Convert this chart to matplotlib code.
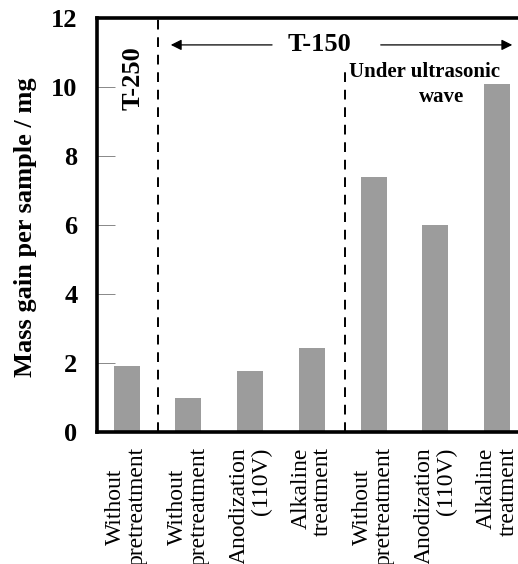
import matplotlib.pyplot as plt

plt.rcParams["font.family"] = ["Liberation Serif", "DejaVu Serif"]

categories = [
    "Without\npretreatment",
    "Without\npretreatment",
    "Anodization\n(110V)",
    "Alkaline\ntreatment",
    "Without\npretreatment",
    "Anodization\n(110V)",
    "Alkaline\ntreatment",
]
mass_gain = [1.9, 1.0, 1.78, 2.43, 7.4, 6.0, 10.1]
y_ticks = [0, 2, 4, 6, 8, 10, 12]

fig = plt.figure(figsize=(5.18, 5.64), dpi=100)
ax = fig.add_axes([97 / 518, 132 / 564, 431 / 518, 414 / 564])

x = list(range(len(mass_gain)))
ax.bar(x, mass_gain, width=0.42, color="#9c9c9c", edgecolor="none", zorder=2)

ax.set_xlim(-0.48, 6.5)
ax.set_ylim(0, 12)
ax.set_yticks(y_ticks)
ax.set_yticklabels([str(t) for t in y_ticks], fontsize=19, fontweight="bold")
ax.tick_params(axis="y", direction="in", length=13, width=0.7, color="#888888", pad=14)
ax.tick_params(axis="x", length=0, pad=11)
ax.set_xticks(x)
ax.set_xticklabels(categories, rotation=90, fontsize=17, va="top", ha="center",
                   linespacing=1.05)
for lab, txt in zip(ax.get_xticklabels(), categories):
    lab.set_multialignment("center" if txt.startswith("Without") else "right")

for side in ("left", "top", "bottom"):
    ax.spines[side].set_linewidth(2.6)
ax.spines["right"].set_visible(False)

ax.set_ylabel("Mass gain per sample / mg", fontsize=19, fontweight="bold")
ax.yaxis.set_label_coords(-0.14, 0.495)

# group separators
ax.axvline(0.5, color="black", lw=1.4, ls=(0, (5, 4)), zorder=1)
ax.plot([3.53, 3.53], [0, 10.64], color="black", lw=1.4, ls=(0, (5, 4)), zorder=1)

ax.text(0.1, 10.26, "T-250", rotation=90, fontsize=19, fontweight="bold",
        ha="center", va="center")
ax.text(3.12, 11.22, "T-150", fontsize=19, fontweight="bold", ha="center", va="center")
ax.annotate("", xy=(0.67, 11.22), xytext=(2.4, 11.22),
            arrowprops=dict(arrowstyle="-|>", color="black", lw=0.9, mutation_scale=16))
ax.annotate("", xy=(6.29, 11.22), xytext=(4.07, 11.22),
            arrowprops=dict(arrowstyle="-|>", color="black", lw=0.9, mutation_scale=16))
ax.text(6.05, 10.43, "Under ultrasonic", fontsize=15, fontweight="bold",
        ha="right", va="center")
ax.text(5.1, 9.71, "wave", fontsize=15, fontweight="bold", ha="center", va="center")

fig.savefig("out.png", dpi=100)
